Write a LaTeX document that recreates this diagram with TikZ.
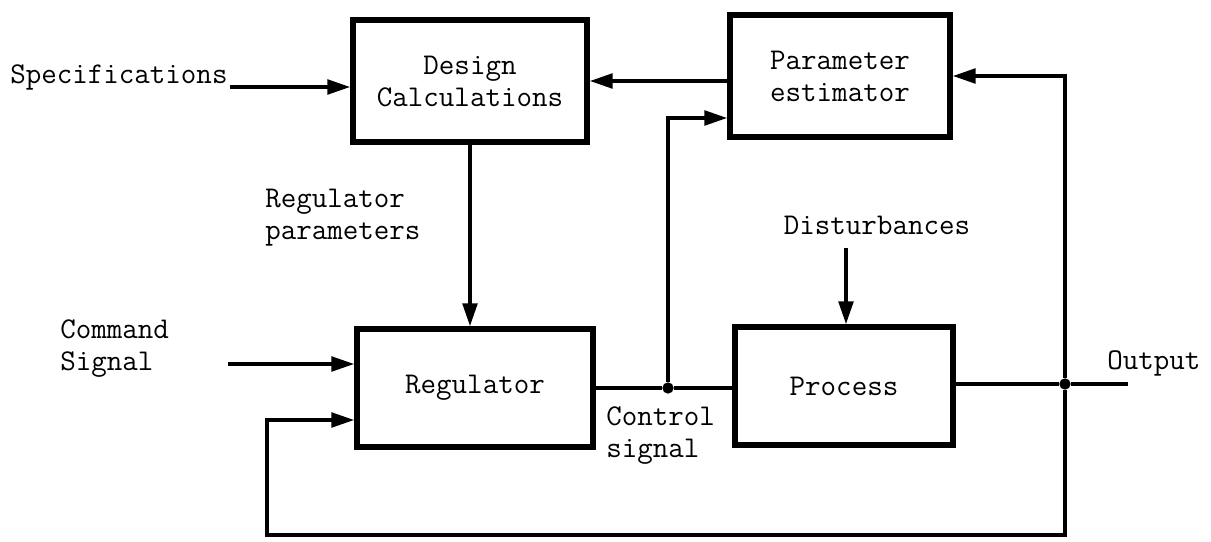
\documentclass[tikz,border=0pt]{standalone}
\usepackage{fontspec}
\usetikzlibrary{arrows.meta}
\newcommand\diafont{\ttfamily\addfontfeature{FakeBold=0.6}\fontsize{22.6}{24}\selectfont}
\begin{document}
\begin{tikzpicture}[x=0.75pt,y=-0.75pt,
  blk/.style={draw, line width=4.3pt, inner sep=0pt, align=center, font=\diafont},
  con/.style={line width=2.4pt},
  arr/.style={con, -{Triangle[length=17pt,width=11pt]}},
  lbl/.style={font=\diafont, align=left, inner sep=0pt},
  jdot/.style={circle, fill, inner sep=0pt, minimum size=8.5pt}]
\useasboundingbox (0,0) rectangle (1211,542);
% blocks
\node[blk, minimum width=175.5pt, minimum height=91.5pt] (des) at (470,81) {Design\\Calculations};
\node[blk, minimum width=165pt, minimum height=91.5pt] (par) at (840,76) {Parameter\\estimator};
\node[blk, minimum width=177pt, minimum height=88.5pt] (reg) at (475,388) {Regulator};
\node[blk, minimum width=163.5pt, minimum height=88.5pt] (proc) at (844,386) {Process};
% labels
\node[lbl, anchor=west] (spec) at (10,77) {Specifications};
\node[lbl, anchor=west] (regp) at (265,218) {Regulator\\parameters};
\node[lbl, anchor=west] (cmd) at (60,349) {Command\\Signal};
\node[lbl, anchor=west] (ctl) at (606,436) {Control\\signal};
\node[lbl] (dist) at (877,225) {Disturbances};
\node[lbl, anchor=west] (out) at (1107,363) {Output};
% junctions
\node[jdot] (j1) at (668,388) {};
\node[jdot] (j2) at (1065,384) {};
% helper coordinates
\coordinate (s) at (230,87);
\coordinate (pd) at (660,81);
\coordinate (cb) at (700,118);
\coordinate (oe) at (1128,384);
\coordinate (fb) at (267,535);
\coordinate (fr) at (300,420);
\coordinate (cs) at (228,364);
\coordinate (d) at (846,248);
% connectors
\draw[arr] (s) -- (s -| des.west);
\draw[arr] (pd -| par.west) -- (pd -| des.east);
\draw[arr] (des.south) -- (des.south |- reg.north);
\draw[con] (reg.east |- j1) -- (j1) -- (j1 -| proc.west);
\draw[arr] (j1) |- (cb -| par.west);
\draw[con] (proc.east |- j2) -- (j2) -- (oe);
\draw[arr] (j2) |- (par.east);
\draw[arr] (j2) |- (fb) |- (fr -| reg.west);
\draw[arr] (cs) -- (cs -| reg.west);
\draw[arr] (d) -- (d |- proc.north);
\end{tikzpicture}
\end{document}
